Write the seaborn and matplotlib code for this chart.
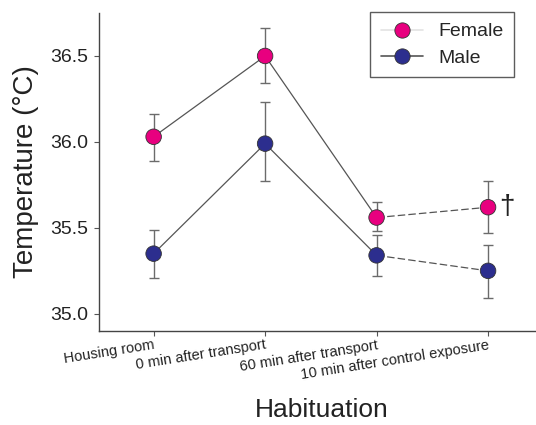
import matplotlib
matplotlib.use("Agg")
import matplotlib.pyplot as plt
from matplotlib.lines import Line2D
import seaborn as sns
import pandas as pd
import numpy as np

categories = ["Housing room", "0 min after transport", "60 min after transport",
              "10 min after control exposure"]
female_mean = [36.03, 36.50, 35.56, 35.62]
female_err_low = [35.89, 36.34, 35.48, 35.47]
female_err_high = [36.16, 36.66, 35.65, 35.77]
male_mean = [35.35, 35.99, 35.34, 35.25]
male_err_low = [35.21, 35.77, 35.22, 35.09]
male_err_high = [35.49, 36.23, 35.46, 35.40]
groups = ["Female", "Male"]
colors = {"Female": "#E8007F", "Male": "#2C2E8E"}

sns.set_theme(style="white")
plt.rcParams["font.family"] = ["Liberation Sans", "DejaVu Sans"]

rows = []
for g, means, lo, hi in [("Female", female_mean, female_err_low, female_err_high),
                         ("Male", male_mean, male_err_low, male_err_high)]:
    for i, c in enumerate(categories):
        rows.append({"pos": i, "Habituation": c, "Temperature": means[i], "Sex": g,
                     "lo": lo[i], "hi": hi[i]})
df = pd.DataFrame(rows)

fig = plt.figure(figsize=(5.36, 4.25), dpi=100)
ax = fig.add_axes([99 / 536, 1 - 331 / 425, 1 - 99 / 536, (331 - 13) / 425])

# error bars
for g in groups:
    sub = df[df["Sex"] == g]
    ax.errorbar(sub["pos"], sub["Temperature"],
                yerr=[sub["Temperature"] - sub["lo"], sub["hi"] - sub["Temperature"]],
                fmt="none", ecolor="#6b6b6b", elinewidth=1.0, capsize=3.5, capthick=1.0, zorder=2)

# connecting lines: solid for first three, dashed for last segment
for g in groups:
    sub = df[df["Sex"] == g]
    solid = sub[sub["pos"] <= 2]
    dashed = sub[sub["pos"] >= 2]
    sns.lineplot(data=solid, x="pos", y="Temperature", ax=ax, color="#555555",
                 linewidth=0.9, zorder=3, legend=False, errorbar=None)
    sns.lineplot(data=dashed, x="pos", y="Temperature", ax=ax, color="#555555",
                 linewidth=0.9, zorder=3, legend=False, errorbar=None,
                 dashes=False, linestyle=(0, (6, 2.5)))

sns.scatterplot(data=df, x="pos", y="Temperature", hue="Sex", palette=colors, ax=ax,
                s=125, edgecolor="#333333", linewidth=0.6, zorder=4, legend=False)

ax.text(3.1, female_mean[3], "†", fontsize=20, va="center", ha="left", color="#222222")

ax.set_xlim(-0.49, 3.43)
ax.set_ylim(34.9, 36.75)
ax.set_yticks([35.0, 35.5, 36.0, 36.5])
ax.set_yticklabels(["35.0", "35.5", "36.0", "36.5"], fontsize=14, color="#222222")
ax.set_xticks(range(len(categories)))
ax.set_xticklabels(categories, fontsize=10.5, rotation=9, ha="right",
                   rotation_mode="anchor", color="#222222")
ax.tick_params(axis="both", which="both", direction="out", length=3.5, width=0.8,
               color="#555555", left=True, bottom=True)
ax.tick_params(axis="x", pad=1.5)
ax.tick_params(axis="y", pad=4)
ax.set_xlabel("Habituation", fontsize=19, color="#222222", va="top")
ax.xaxis.set_label_coords(0.51, -0.212)
ax.set_ylabel("Temperature (°C)", fontsize=20, labelpad=8, color="#222222")

for s in ["top", "right"]:
    ax.spines[s].set_visible(False)
for s in ["left", "bottom"]:
    ax.spines[s].set_color("#444444")
    ax.spines[s].set_linewidth(1.0)

handles = [
    Line2D([0], [0], color="#e3e3e3", linewidth=1.2, marker="o", markersize=11,
           markerfacecolor=colors["Female"], markeredgecolor="#333333", markeredgewidth=0.6),
    Line2D([0], [0], color="#555555", linewidth=1.2, marker="o", markersize=11,
           markerfacecolor=colors["Male"], markeredgecolor="#333333", markeredgewidth=0.6),
]
leg = ax.legend(handles, groups, loc="upper right", bbox_to_anchor=(0.95, 1.003),
                fontsize=14, frameon=True, fancybox=False, borderaxespad=0,
                handlelength=2.15, handletextpad=0.8, borderpad=0.55, labelspacing=0.45)
leg.get_frame().set_edgecolor("#333333")
leg.get_frame().set_linewidth(1.0)

fig.savefig("out.png", dpi=100)
